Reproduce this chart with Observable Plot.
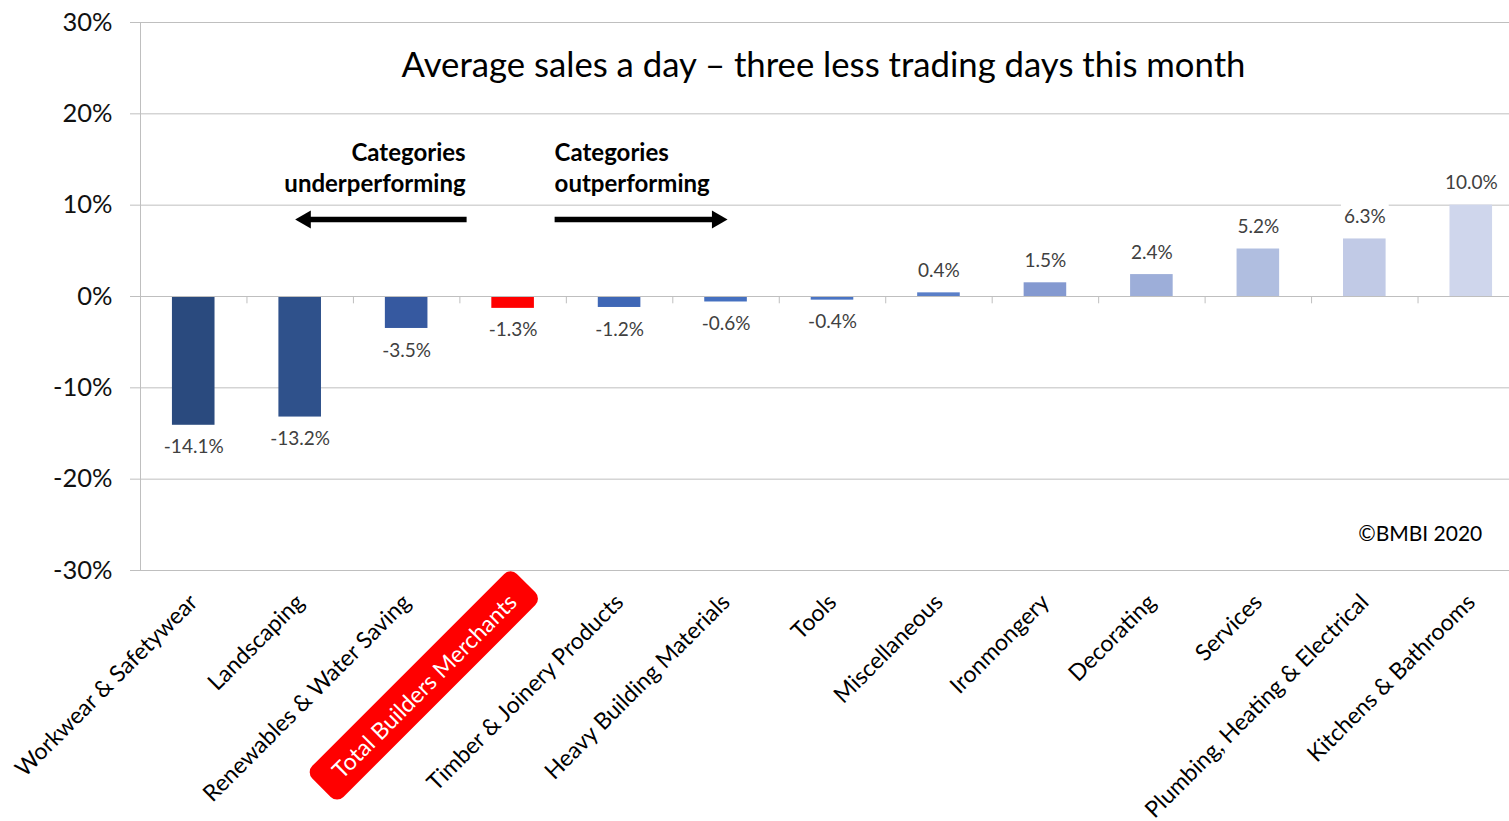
<!DOCTYPE html>
<html><head><meta charset="utf-8">
<script src="https://cdn.jsdelivr.net/npm/d3@7"></script>
<script src="https://cdn.jsdelivr.net/npm/@observablehq/plot@0.6"></script>
<style>
html,body{margin:0;padding:0;background:#fff;overflow:hidden;}
#chart{width:1524px;}
</style></head><body><div id="chart"></div>
<script>
const categories = ["Workwear & Safetywear","Landscaping","Renewables & Water Saving","Total Builders Merchants","Timber & Joinery Products","Heavy Building Materials","Tools","Miscellaneous","Ironmongery","Decorating","Services","Plumbing, Heating & Electrical","Kitchens & Bathrooms"];
const values = [-14.1,-13.2,-3.5,-1.3,-1.2,-0.6,-0.4,0.4,1.5,2.4,5.2,6.3,10.0];
const palette = ["#2A4A7E","#2F518B","#3659A0","#FF0000","#3F67B6","#4570C0","#4A74C4","#5A7FC8","#8499D0","#9DAED9","#B0BEE0","#C1CAE6","#CFD6EC"];
const yTicks = [-30,-20,-10,0,10,20,30];
const title = "Average sales a day \u2013 three less trading days this month";
const underLabel = "Categories\nunderperforming";
const outLabel = "Categories\noutperforming";
const copyright = "\u00A9BMBI 2020";
const highlight = "Total Builders Merchants";

const W = 1524, H = 821, ML = 140, MT = 22, MB = 251;
const step = (W - ML) / categories.length;
const half = step / 2;
const rows = categories.map((c, i) => ({cat: c, value: values[i], color: palette[i]}));
const font = "Lato, 'Open Sans', sans-serif";
const grid = "#BFBFBF";

const plot = Plot.plot({
  width: W, height: H, marginLeft: ML, marginRight: 0, marginTop: MT, marginBottom: MB,
  style: {fontFamily: font, background: "white", overflow: "visible"},
  x: {domain: categories, paddingInner: 0.6, paddingOuter: 0.3, round: false, label: null},
  y: {domain: [-30, 30], label: null},
  marks: [
    Plot.gridY(yTicks, {stroke: grid, strokeOpacity: 1}),
    Plot.axisY(yTicks, {tickSize: 10, tickPadding: 18, tickFormat: d => d + "%", fontSize: 25.5, stroke: grid, fill: "#111", label: null}),
    Plot.axisX({tickRotate: -45, tickSize: 0, tickPadding: 28, fontSize: 23, fill: "#000", label: null}),
    Plot.ruleX([categories[0]], {dx: -half, y1: -30, y2: 30, stroke: grid}),
    Plot.barY(rows, {x: "cat", y: "value", fill: "color"}),
    Plot.ruleY([0], {stroke: grid}),
    Plot.ruleX(categories.slice(1), {dx: -half, y1: 0, y2: -0.8, stroke: grid}),
    Plot.text(rows.filter(d => d.value >= 0), {x: "cat", y: "value", text: d => d.value.toFixed(1) + "%", dy: -22, fontSize: 19, fill: "#404040"}),
    Plot.text(rows.filter(d => d.value < 0), {x: "cat", y: "value", text: d => d.value.toFixed(1) + "%", dy: 22, fontSize: 19, fill: "#404040"}),
    Plot.text([title], {text: d => d, frameAnchor: "top", dy: 30, dx: -9, fontSize: 34.7, fill: "#000"}),
    Plot.text([underLabel], {text: d => d, x: () => "Renewables & Water Saving", y: 14.2, dx: 59, textAnchor: "end", fontWeight: "bold", fontSize: 24, lineHeight: 1.3, fill: "#000"}),
    Plot.text([outLabel], {text: d => d, x: () => "Total Builders Merchants", y: 14.2, dx: 41.5, textAnchor: "start", fontWeight: "bold", fontSize: 24, lineHeight: 1.3, fill: "#000"}),
    Plot.arrow([0], {x1: () => "Total Builders Merchants", x2: () => "Workwear & Safetywear", y1: 8.43, y2: 8.43, insetStart: 46.5, insetEnd: 111.5, headLength: 0, strokeWidth: 5.5, stroke: "#000", strokeLinecap: "butt"}),
    Plot.arrow([0], {x1: () => "Total Builders Merchants", x2: () => "Tools", y1: 8.43, y2: 8.43, insetStart: 41.5, insetEnd: 115, headLength: 0, strokeWidth: 5.5, stroke: "#000", strokeLinecap: "butt"}),
    Plot.dot([0], {x: () => "Landscaping", y: 8.43, dx: 5.4, symbol: "triangle", r: 6.7, rotate: -90, fill: "#000", stroke: null}),
    Plot.dot([0], {x: () => "Heavy Building Materials", y: 8.43, dx: -8.9, symbol: "triangle", r: 6.7, rotate: 90, fill: "#000", stroke: null}),
    Plot.text([copyright], {text: d => d, x: () => "Kitchens & Bathrooms", y: -26, dx: 11, textAnchor: "end", fontSize: 21, fill: "#000"})
  ]
});
document.getElementById("chart").append(plot);

const NS = "http://www.w3.org/2000/svg";
d3.select(plot).selectAll("text").each(function () {
  const t = this.textContent;
  if (/^-?\d+\.\d%$/.test(t)) {
    const b = this.getBBox();
    const r = document.createElementNS(NS, "rect");
    r.setAttribute("x", b.x - 3); r.setAttribute("y", b.y - 2);
    r.setAttribute("width", b.width + 6); r.setAttribute("height", b.height + 4);
    r.setAttribute("fill", "white");
    if (this.getAttribute("transform")) r.setAttribute("transform", this.getAttribute("transform"));
    this.parentNode.insertBefore(r, this);
  }
  if (t === highlight) {
    const b = this.getBBox();
    const r = document.createElementNS(NS, "rect");
    r.setAttribute("x", b.x - 20); r.setAttribute("y", b.y - 8);
    r.setAttribute("width", b.width + 40); r.setAttribute("height", b.height + 16);
    r.setAttribute("rx", 9); r.setAttribute("fill", "#FF0000");
    if (this.getAttribute("transform")) r.setAttribute("transform", this.getAttribute("transform"));
    this.parentNode.insertBefore(r, this);
    this.setAttribute("fill", "white");
  }
});
</script></body></html>
